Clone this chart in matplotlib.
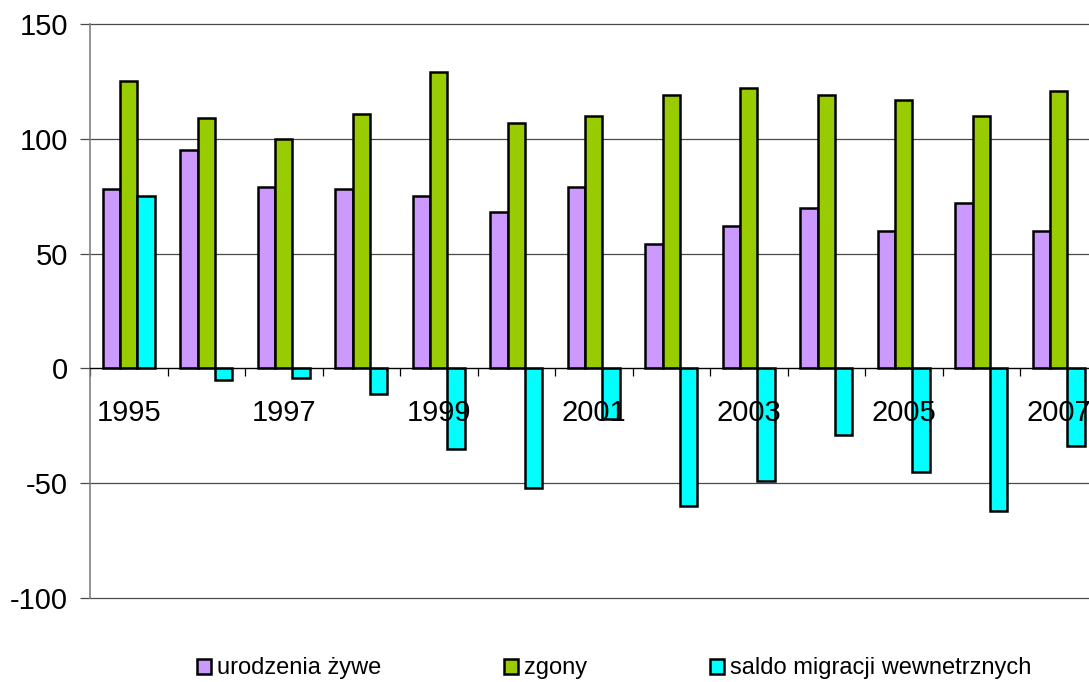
import matplotlib.pyplot as plt
import matplotlib as mpl
import numpy as np

mpl.rcParams["font.family"] = ["Liberation Sans", "DejaVu Sans"]
mpl.rcParams["axes.unicode_minus"] = False

years = [1995, 1996, 1997, 1998, 1999, 2000, 2001, 2002, 2003, 2004, 2005, 2006, 2007]
urodzenia = [78, 95, 79, 78, 75, 68, 79, 54, 62, 70, 60, 72, 60]
zgony = [125, 109, 100, 111, 129, 107, 110, 119, 122, 119, 117, 110, 121]
saldo = [75, -5, -4, -11, -35, -52, -22, -60, -49, -29, -45, -62, -34]

series = [
    ("urodzenia żywe", urodzenia, "#CC99FF"),
    ("zgony", zgony, "#99CC00"),
    ("saldo migracji wewnetrznych", saldo, "#00FFFF"),
]
y_ticks = [-100, -50, 0, 50, 100, 150]

fig = plt.figure(figsize=(10.89, 6.82), dpi=100)
# plot area runs a little past the right edge, as in the original export
ax = fig.add_axes([90 / 1089, 84 / 682, 1007.5 / 1089, 574 / 682])

x = np.arange(len(years))
w = 1 / 4.5  # Excel gap width 150%
handles = []
for i, (name, vals, col) in enumerate(series):
    b = ax.bar(x + (i - 1) * w, vals, w, color=col, edgecolor="black",
               linewidth=1.8, label=name, zorder=1)
    handles.append(b)

# horizontal gridlines
for yv in y_ticks:
    if yv != 0:
        ax.axhline(yv, color="#4a4a4a", linewidth=0.9, zorder=0.5, clip_on=False)

ax.set_xlim(-0.5, len(years) - 0.5)
ax.set_ylim(-100, 150)
ax.set_yticks(y_ticks)
ax.tick_params(axis="y", labelsize=21, length=7, width=0.9, pad=9,
               color="#4a4a4a")

# category axis sits on the zero line
ax.spines["bottom"].set_position(("data", 0))
ax.spines["bottom"].set_color("black")
ax.spines["bottom"].set_linewidth(1.0)
ax.spines["top"].set_visible(False)
ax.spines["right"].set_visible(False)
ax.spines["left"].set_color("#808080")
ax.spines["left"].set_linewidth(1.2)

ax.set_xticks(np.arange(len(years) + 1) - 0.5)
ax.set_xticklabels([])
ax.tick_params(axis="x", which="major", direction="out", length=6, width=0.9)
ax.set_xticks(x, minor=True)
ax.set_xticklabels([str(y) if k % 2 == 0 else "" for k, y in enumerate(years)],
                   minor=True)
ax.tick_params(axis="x", which="minor", length=0, pad=22, labelsize=21)

fig.legend(handles=handles, loc="center", bbox_to_anchor=(0.564, 0.02),
           ncol=3, frameon=False, fontsize=17, handlelength=0.6,
           handleheight=0.6, handletextpad=0.25, columnspacing=5.2)

fig.savefig("out.png", dpi=100)
